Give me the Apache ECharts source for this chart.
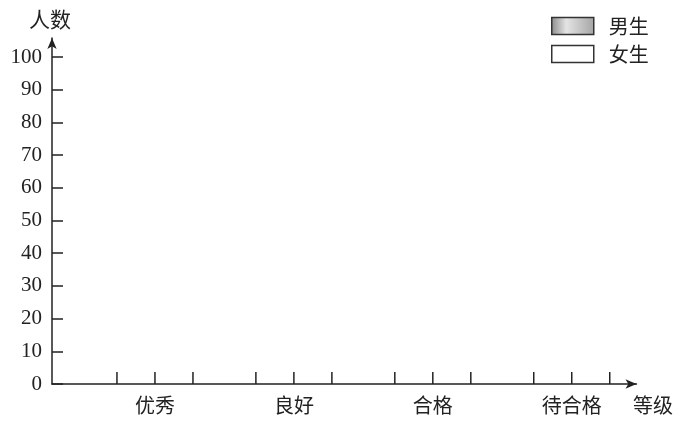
<!DOCTYPE html>
<html>
<head>
<meta charset="utf-8">
<script src="https://cdn.jsdelivr.net/npm/echarts@6/dist/echarts.min.js"></script>
<style>html,body{margin:0;padding:0;background:#fff;}#c{width:685px;height:425px;}</style>
</head>
<body>
<div id="c"></div>
<script>
// ---- data ----
var categories = ['优秀', '良好', '合格', '待合格'];
var seriesNames = ['男生', '女生'];
var boys = [null, null, null, null];   // empty template: no bars drawn
var girls = [null, null, null, null];
var yMin = 0, yMax = 100, yInterval = 10;
var xAxisName = '等级';
var yAxisName = '人数';

// ---- styles ----
var INK = '#222';
var CJK = '"Noto Sans CJK SC", sans-serif';
var SERIF = '"Liberation Serif", "DejaVu Serif", serif';
var BAR_W = 38;
var boyFill = new echarts.graphic.LinearGradient(0, 0, 1, 0, [
  {offset: 0, color: '#8a8a8a'},
  {offset: 0.35, color: '#e4e4e4'},
  {offset: 1, color: '#a4a4a4'}
]);

var chart = echarts.init(document.getElementById('c'), null, {renderer: 'canvas'});
chart.setOption({
  backgroundColor: '#fff',
  animation: false,
  legend: {
    orient: 'vertical', left: 546, top: 11, itemGap: 8,
    itemWidth: 42, itemHeight: 17, icon: 'rect',
    textStyle: {fontSize: 20, fontFamily: CJK, color: INK, padding: [0, 0, 0, 10]},
    data: [
      {name: seriesNames[0], itemStyle: {color: boyFill, borderColor: '#333', borderWidth: 1.5}},
      {name: seriesNames[1], itemStyle: {color: '#fff', borderColor: '#333', borderWidth: 1.5}}
    ]
  },
  grid: [
    {left: 52, top: 38, right: 48.5, bottom: 41},
    {left: 85.5, top: 57, right: 43.8, bottom: 41}
  ],
  xAxis: [
    {
      type: 'value', gridIndex: 0, min: 0, max: 1,
      name: xAxisName, nameLocation: 'end', nameGap: -3.5,
      nameTextStyle: {fontSize: 20, fontFamily: CJK, color: INK, verticalAlign: 'top', align: 'left', padding: [11, 0, 0, 0]},
      axisLine: {show: true, symbol: ['none', 'arrow'], symbolSize: [7, 11], lineStyle: {color: INK, width: 1.5}},
      axisTick: {show: false}, axisLabel: {show: false}, splitLine: {show: false}
    },
    {
      type: 'category', gridIndex: 1, data: categories,
      axisLine: {show: false}, axisTick: {show: false},
      axisLabel: {fontSize: 20, fontFamily: CJK, color: INK, margin: 11},
      splitLine: {show: false}
    }
  ],
  yAxis: [
    {
      type: 'value', gridIndex: 0, min: 0, max: 1,
      name: yAxisName, nameLocation: 'end', nameGap: 8,
      nameTextStyle: {fontSize: 21, fontFamily: CJK, color: INK, padding: [0, 4, 0, 0]},
      axisLine: {show: true, symbol: ['none', 'arrow'], symbolSize: [7, 11], lineStyle: {color: INK, width: 1.5}},
      axisTick: {show: false}, axisLabel: {show: false}, splitLine: {show: false}
    },
    {
      type: 'value', gridIndex: 1, min: yMin, max: yMax, interval: yInterval,
      offset: 33.5,
      axisLine: {show: false},
      axisTick: {show: true, inside: true, length: 11, lineStyle: {color: INK, width: 1.5}},
      axisLabel: {fontSize: 21, fontFamily: SERIF, color: INK, margin: 10},
      splitLine: {show: false}
    }
  ],
  series: [
    {
      name: seriesNames[0], type: 'bar', xAxisIndex: 1, yAxisIndex: 1,
      data: boys, barWidth: BAR_W, barGap: '0%',
      itemStyle: {color: boyFill, borderColor: '#333', borderWidth: 1.5}
    },
    {
      name: seriesNames[1], type: 'bar', xAxisIndex: 1, yAxisIndex: 1,
      data: girls, barWidth: BAR_W, barGap: '0%',
      itemStyle: {color: '#fff', borderColor: '#333', borderWidth: 1.5}
    },
    {
      type: 'custom', xAxisIndex: 1, yAxisIndex: 1, silent: true, z: 5,
      data: categories.map(function (c, i) { return [i, yMin]; }),
      encode: {x: 0, y: 1},
      renderItem: function (params, api) {
        var p = api.coord([api.value(0), api.value(1)]);
        var xs = [p[0] - BAR_W, p[0], p[0] + BAR_W];
        return {
          type: 'group',
          children: xs.map(function (x) {
            return {
              type: 'line',
              shape: {x1: x, y1: p[1], x2: x, y2: p[1] - 12},
              style: {stroke: INK, lineWidth: 1.5}
            };
          })
        };
      }
    }
  ]
});
</script>
</body>
</html>
